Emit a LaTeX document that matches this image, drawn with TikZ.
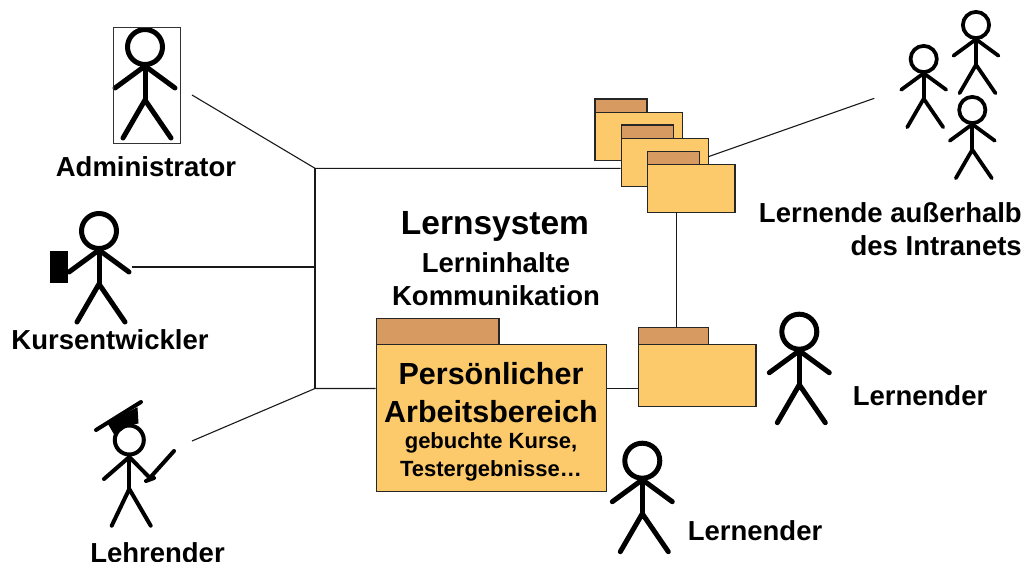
\documentclass[tikz,border=0pt]{standalone}
\usepackage{fontspec}
\setmainfont{Liberation Sans}
\usetikzlibrary{positioning,calc}

\definecolor{folderbody}{HTML}{FCC96B}
\definecolor{foldertab}{HTML}{D79B61}

\tikzset{
  labeltext/.style={font=\bfseries\fontsize{27.5}{33}\selectfont, inner sep=0},
  titletext/.style={font=\bfseries\fontsize{33.5}{40}\selectfont, inner sep=0},
  foldertext/.style={font=\bfseries\fontsize{30.5}{36}\selectfont, inner sep=0},
  smalltext/.style={font=\bfseries\fontsize{22}{28}\selectfont, inner sep=0},
  bodybox/.style={draw=black!85, line width=1.3pt, fill=folderbody, anchor=north west, inner sep=0},
  tabbox/.style={draw=black!85, line width=1.3pt, fill=foldertab, anchor=north west, inner sep=0},
  connector/.style={draw=black!90, line width=1.1pt},
  figureline/.style={draw=black, line cap=round}
}

% name, x, y of the head, scale
\newcommand{\stickman}[4]{
  \begin{scope}[shift={(#2,#3)}, scale=#4, figureline, line width=5pt*#4]
    \coordinate (#1) at (0,0);
    \draw (0,0) circle (17.5);
    \draw (0,18) -- (0,53);
    \draw (-30,41) -- (0,19) -- (30,41);
    \draw (-22,91) -- (0,53) -- (26,91);
  \end{scope}
}

\begin{document}
\begin{tikzpicture}[x=1pt,y=-1pt]
  \useasboundingbox (0,0) rectangle (1026,562);

  % actors
  \stickman{admin}{145}{47}{1}
  \node[draw=black!80, line width=.9pt, minimum width=67.5pt, minimum height=115.5pt, inner sep=0, anchor=north west] (adminbox) at (112.5,27) {};
  \node[labeltext] (adminlabel) at (146,167) {Administrator};

  \stickman{developer}{99}{231}{1}
  \node[fill=black, minimum width=18pt, minimum height=32pt, inner sep=0, anchor=north west] (briefcase) at (50,251) {};
  \node[labeltext] (developerlabel) at (110,340) {Kursentwickler};

  % teacher has its own proportions
  \begin{scope}[figureline, line width=4pt]
    \draw (129.3,440) circle (14.5);
    \draw (129.3,456) -- (129.3,489);
    \draw (104,479) -- (129.3,457) -- (150,478);
    \draw (111.7,525.7) -- (129.3,489) -- (150.7,525.7);
    \draw (148,480) -- (174,451);
    \draw (146,481) -- (154,478);
    \draw (96,430) -- (141,402);
    \draw[fill=black, line width=1pt] (108,423) -- (137,408) -- (138,423) -- (128,425) -- (115,435) -- cycle;
  \end{scope}
  \node[labeltext] (teacherlabel) at (157.5,553) {Lehrender};

  \stickman{outerone}{976}{25}{.75}
  \stickman{outertwo}{923.7}{59}{.75}
  \stickman{outerthree}{972.3}{110}{.75}
  \node[labeltext, align=right, anchor=north east] (outerlabel) at (1022,202) {Lernende außerhalb\\des Intranets};

  \stickman{learnerone}{799.3}{331.7}{1}
  \node[labeltext] (learneronelabel) at (920,396) {Lernender};
  \stickman{learnertwo}{642.3}{460.7}{1}
  \node[labeltext] (learnertwolabel) at (755,531) {Lernender};

  % stack of folders
  \node[tabbox, minimum width=52pt, minimum height=13.4pt] (firsttab) at (594.3,98.3) {};
  \node[bodybox, minimum width=87.4pt, minimum height=48pt] (firstbody) at (594.3,111.7) {};
  \node[tabbox, minimum width=52pt, minimum height=13.4pt] (secondtab) at (620.5,124.3) {};
  \node[bodybox, minimum width=87.4pt, minimum height=48pt] (secondbody) at (620.5,137.7) {};
  \node[tabbox, minimum width=52pt, minimum height=13.4pt] (thirdtab) at (646.7,150.5) {};
  \node[bodybox, minimum width=87.6pt, minimum height=48pt] (thirdbody) at (646.7,164) {};

  % own folder of the learner
  \node[tabbox, minimum width=70pt, minimum height=17.3pt] (learnertab) at (637.7,326.7) {};
  \node[bodybox, minimum width=117.6pt, minimum height=62pt] (learnerbody) at (637.7,344) {};

  % main folder
  \node[tabbox, minimum width=122.6pt, minimum height=26pt] (maintab) at (375.7,318) {};
  \node[bodybox, minimum width=230.3pt, minimum height=146.7pt] (mainbody) at (375.7,344) {};
  \node[foldertext] (worktitle) at (491,374) {Persönlicher};
  \node[foldertext] (worksub) at (491,412) {Arbeitsbereich};
  \node[smalltext] (worktext) at (491,443) {gebuchte Kurse,};
  \node[smalltext] (workmore) at (491,471) {Testergebnisse…};

  \node[titletext] (system) at (495,226) {Lernsystem};
  \node[labeltext] (content) at (496,263) {Lerninhalte};
  \node[labeltext] (talk) at (496,296) {Kommunikation};

  % connectors
  \coordinate (trunktop) at (315,168.3);
  \coordinate (trunkmid) at (315,267);
  \coordinate (trunklow) at (315,388.5);
  \coordinate (adminend) at (192,95);
  \coordinate (developerend) at (132,267);
  \coordinate (teacherend) at (192,441);
  \coordinate (outerend) at (874.3,98.3);
  \coordinate (outerstart) at (708.3,156.7);
  \coordinate (stem) at (676.3,212);

  \draw[connector] (adminend) -- (trunktop) -- (trunktop -| secondbody.west);
  \draw[connector] (trunktop) -- (trunklow);
  \draw[connector] (developerend) -- (trunkmid);
  \draw[connector] (teacherend) -- (trunklow) -- (trunklow -| mainbody.west);
  \draw[connector] (trunklow -| mainbody.east) -- (trunklow -| learnerbody.west);
  \draw[connector] (outerstart) -- (outerend);
  \draw[connector] (stem) -- (stem |- learnertab.north);
\end{tikzpicture}
\end{document}
